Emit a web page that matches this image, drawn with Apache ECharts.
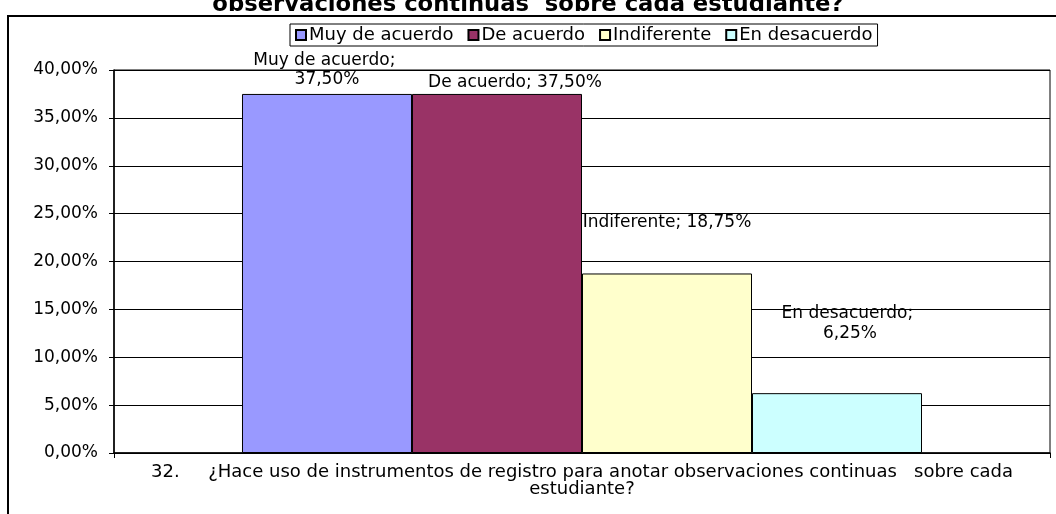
<!DOCTYPE html>
<html>
<head>
<meta charset="utf-8">
<script src="https://cdn.jsdelivr.net/npm/echarts@6/dist/echarts.min.js"></script>
<style>
html,body{margin:0;padding:0;background:#fff;}
#chart{width:1056px;height:514px;}
</style>
</head>
<body>
<div id="chart"></div>
<script>
var titleText = 'observaciones continuas  sobre cada estudiante?';
var categories = ['32.     ¿Hace uso de instrumentos de registro para anotar observaciones continuas   sobre cada\nestudiante?'];
var seriesNames = ['Muy de acuerdo', 'De acuerdo', 'Indiferente', 'En desacuerdo'];
var seriesValues = [37.5, 37.5, 18.75, 6.25];
var yTicks = { min: 0, max: 40, interval: 5 };

var colors = ['#9999FF', '#993366', '#FFFFCC', '#CCFFFF'];
var labelOffsets = [[0, -5], [18, -2], [0, -41], [13, -50]];
var labelWidths = [150, 200, 200, 140];
var FONT = 'DejaVu Sans';

function pct(v) { return v.toFixed(2).replace('.', ',') + '%'; }

var series = seriesNames.map(function (name, i) {
  return {
    name: name,
    type: 'bar',
    data: [seriesValues[i]],
    barGap: '0%',
    barCategoryGap: '27.35%',
    itemStyle: { color: colors[i], borderColor: '#000', borderWidth: 1 },
    label: {
      show: true,
      position: 'top',
      distance: 0,
      offset: labelOffsets[i],
      width: labelWidths[i],
      overflow: 'break',
      align: 'center',
      lineHeight: i === 3 ? 20 : 19,
      color: '#000',
      fontFamily: FONT,
      fontSize: 17,
      formatter: function (p) { return p.seriesName + '; ' + pct(p.value); }
    }
  };
});

var chart = echarts.init(document.getElementById('chart'), null, { renderer: 'canvas' });
chart.setOption({
  animation: false,
  backgroundColor: '#fff',
  title: {
    text: titleText,
    left: 'center',
    top: -6,
    padding: 0,
    textStyle: { fontFamily: FONT, fontSize: 22.7, fontWeight: 'bold', color: '#000' }
  },
  graphic: [{
    type: 'rect',
    silent: true,
    z: -1,
    shape: { x: 8, y: 16, width: 1100, height: 600 },
    style: { fill: 'none', stroke: '#000', lineWidth: 2 }
  }],
  legend: {
    top: 24,
    left: 290,
    orient: 'horizontal',
    icon: 'rect',
    itemWidth: 10,
    itemHeight: 10,
    itemGap: 14,
    padding: [2, 5],
    borderColor: '#000',
    borderWidth: 1,
    textStyle: { fontFamily: FONT, fontSize: 18, color: '#000', padding: [0, 0, 0, -2] },
    data: seriesNames
  },
  grid: { left: 114, right: 6, top: 70, bottom: 61, show: true, borderColor: '#000', borderWidth: 1, backgroundColor: 'transparent' },
  xAxis: {
    type: 'category',
    data: categories,
    axisLine: { lineStyle: { color: '#000', width: 1.5 } },
    axisTick: { show: true, length: 5, lineStyle: { color: '#000' } },
    axisLabel: { color: '#000', fontFamily: FONT, fontSize: 18, lineHeight: 17, margin: 11, interval: 0 }
  },
  yAxis: {
    type: 'value',
    min: yTicks.min,
    max: yTicks.max,
    interval: yTicks.interval,
    axisLine: { show: true, lineStyle: { color: '#000', width: 1.5 } },
    axisTick: { show: true, length: 5, lineStyle: { color: '#000' } },
    splitLine: { show: true, lineStyle: { color: '#000', width: 1 } },
    axisLabel: { color: '#000', fontFamily: FONT, fontSize: 17, margin: 16, formatter: function (v) { return pct(v); } }
  },
  series: series
});
</script>
</body>
</html>
